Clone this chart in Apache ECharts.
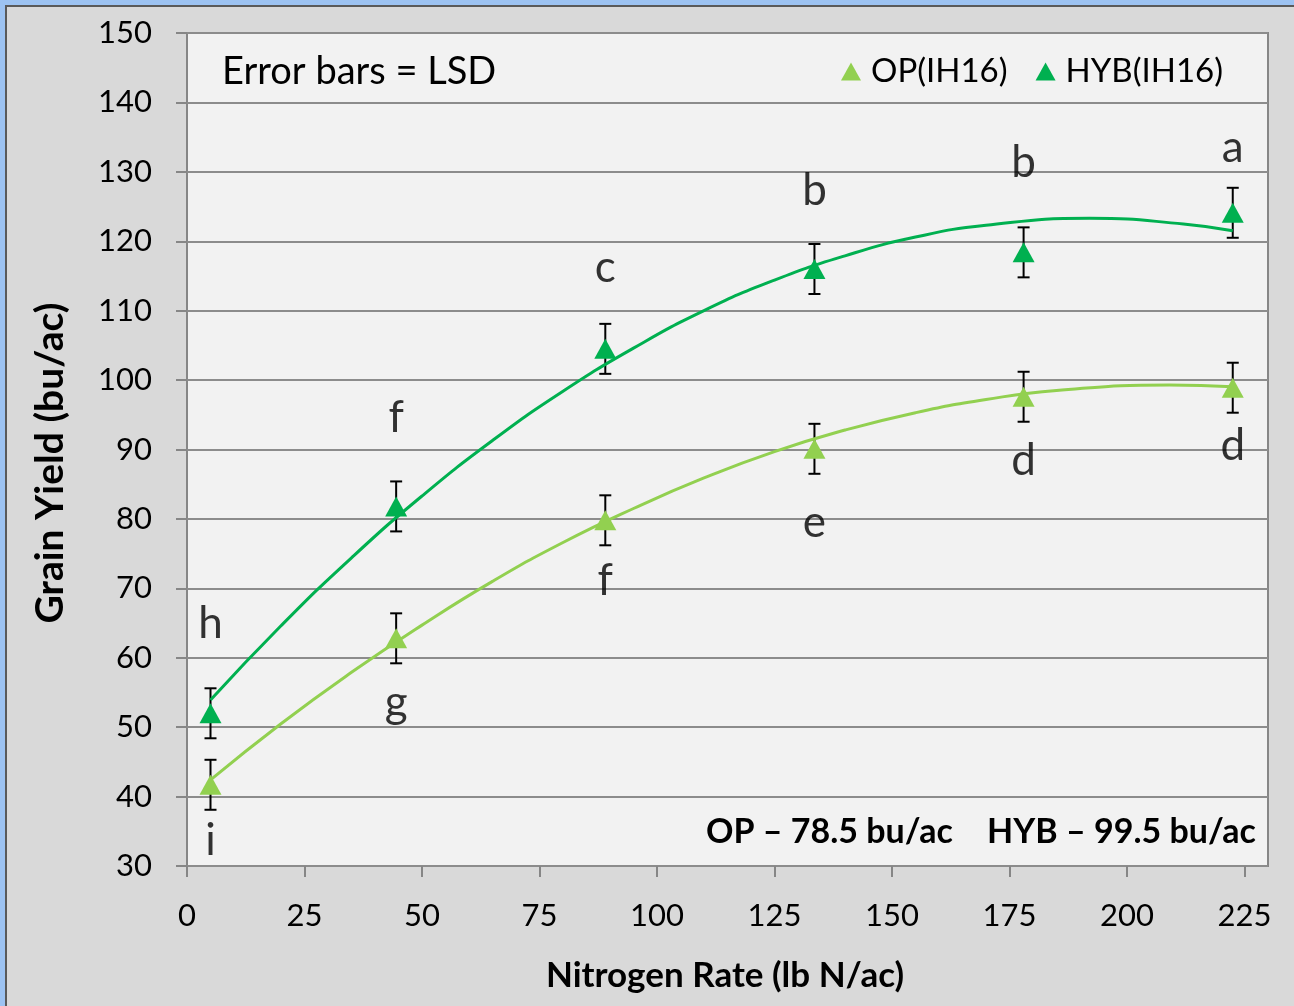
<!DOCTYPE html>
<html>
<head>
<meta charset="utf-8">
<title>Grain Yield vs Nitrogen Rate</title>
<script src="https://cdn.jsdelivr.net/npm/echarts@6/dist/echarts.min.js"></script>
<style>
html,body{margin:0;padding:0;background:#d9d9d9;}
#main{width:1294px;height:1006px;}
</style>
</head>
<body>
<div id="main"></div>
<script>
// nitrogen rates (lb N/ac)
var nRate = [5, 44.5, 89, 133.5, 178, 222.5];
// mean yields (bu/ac)
var opYield = [41.7, 62.8, 79.8, 90.1, 97.6, 98.9];
var hybYield = [52.0, 81.8, 104.5, 116.0, 118.4, 124.1];
// LSD error bars (+/-)
var opLsd = [3.6, 3.6, 3.6, 3.6, 3.6, 3.6];
var hybLsd = [3.6, 3.6, 3.6, 3.6, 3.6, 3.6];
// trend lines
var opTrendX = [5, 20, 35, 50, 65, 80, 95, 110, 125, 140, 155, 170, 185, 209, 222.5];
var opTrend = [42.4, 50.5, 57.9, 64.7, 71.0, 76.6, 81.5, 85.9, 89.7, 92.8, 95.3, 97.2, 98.5, 99.3, 99.05];
var hybTrendX = [5, 20, 35, 50, 65, 80, 95, 110, 125, 140, 155, 170, 192, 212, 222.5];
var hybTrend = [53.9, 64.6, 74.4, 83.3, 91.3, 98.4, 104.6, 110.0, 114.4, 117.9, 120.6, 122.3, 123.3, 122.5, 121.5];
// significance letters and their heights
var hybLetters = ['h', 'f', 'c', 'b', 'b', 'a'];
var hybLetterY = [64.9, 94.6, 116.2, 127.2, 131.3, 133.4];
var opLetters = ['i', 'g', 'f', 'e', 'd', 'd'];
var opLetterY = [33.6, 53.5, 71.1, 79.4, 88.3, 90.5];
var xTicks = [0, 25, 50, 75, 100, 125, 150, 175, 200, 225];

var FONT = 'Lato, "Open Sans", sans-serif';
var opColor = '#92d050', hybColor = '#00b050';

function pairs(xs, ys) {
	var out = [];
	for (var i = 0; i < xs.length; i++) out.push([xs[i], ys[i]]);
	return out;
}
function bars(ys, lsd) {
	var out = [];
	for (var i = 0; i < nRate.length; i++) out.push([nRate[i], ys[i] - lsd[i], ys[i] + lsd[i]]);
	return out;
}
function letters(ys, txt) {
	var out = [];
	for (var i = 0; i < nRate.length; i++) out.push([nRate[i], ys[i], txt[i]]);
	return out;
}
// error bar with caps
function renderBar(params, api) {
	var lo = api.coord([api.value(0), api.value(1)]);
	var hi = api.coord([api.value(0), api.value(2)]);
	var w = 6;
	var st = {stroke: '#000', lineWidth: 2};
	return {
		type: 'group',
		children: [
			{type: 'line', shape: {x1: lo[0], y1: lo[1], x2: hi[0], y2: hi[1]}, style: st},
			{type: 'line', shape: {x1: lo[0] - w, y1: lo[1], x2: lo[0] + w, y2: lo[1]}, style: st},
			{type: 'line', shape: {x1: hi[0] - w, y1: hi[1], x2: hi[0] + w, y2: hi[1]}, style: st}
		]
	};
}
var letterLabel = {
	show: true,
	position: 'inside',
	fontSize: 44,
	fontFamily: FONT,
	color: '#000',
	formatter: function (p) { return p.value[2]; }
};

var option = {
	backgroundColor: '#d9d9d9',
	animation: false,
	textStyle: {fontFamily: FONT},
	grid: {
		left: 187, right: 26, top: 33, bottom: 140,
		show: true, backgroundColor: '#f2f2f2', borderColor: '#868686', borderWidth: 2,
		outerBoundsMode: 'none'
	},
	legend: {
		left: 836, top: 50,
		itemWidth: 20, itemHeight: 18, itemGap: 28,
		icon: 'triangle',
		data: ['OP(IH16)', 'HYB(IH16)'],
		textStyle: {fontSize: 33, fontFamily: FONT, color: '#000', padding: [0, 0, 0, 5]}
	},
	xAxis: {
		type: 'value', min: 0, max: 230, interval: 25,
		axisLine: {show: false},
		axisTick: {show: true, length: 11, lineStyle: {color: '#868686', width: 2}, customValues: xTicks},
		axisLabel: {fontSize: 31, color: '#000', margin: 34, fontFamily: FONT, customValues: xTicks},
		splitLine: {show: false}
	},
	yAxis: {
		type: 'value', min: 30, max: 150, interval: 10,
		axisLine: {show: false},
		axisTick: {show: true, length: 11, lineStyle: {color: '#868686', width: 2}},
		axisLabel: {fontSize: 31, color: '#000', margin: 35, fontFamily: FONT},
		splitLine: {show: true, lineStyle: {color: '#8c8c8c', width: 2}}
	},
	graphic: [
		{type: 'rect', left: 0, top: 0, shape: {width: 1294, height: 5}, style: {fill: '#9dc3f2'}},
		{type: 'rect', left: 0, top: 0, shape: {width: 5, height: 1006}, style: {fill: '#9dc3f2'}},
		{type: 'rect', left: 5, top: 5, shape: {width: 1289, height: 2}, style: {fill: '#5a5a5a'}},
		{type: 'rect', left: 5, top: 5, shape: {width: 2, height: 1001}, style: {fill: '#5a5a5a'}},
		{type: 'text', x: 222, y: 72, style: {text: 'Error bars = LSD', font: '38px ' + FONT, fill: '#000', verticalAlign: 'middle'}},
		{type: 'text', x: 706, y: 832, style: {text: 'OP \u2013 78.5 bu/ac', font: 'bold 34px ' + FONT, fill: '#000', verticalAlign: 'middle'}},
		{type: 'text', x: 1256, y: 832, style: {text: 'HYB \u2013 99.5 bu/ac', font: 'bold 34px ' + FONT, fill: '#000', align: 'right', verticalAlign: 'middle'}},
		{type: 'text', x: 725, y: 976, style: {text: 'Nitrogen Rate (lb N/ac)', font: 'bold 35px ' + FONT, fill: '#000', align: 'center', verticalAlign: 'middle'}},
		{type: 'text', x: 50, y: 463, rotation: Math.PI / 2, style: {text: 'Grain Yield (bu/ac)', font: 'bold 39px ' + FONT, fill: '#000', align: 'center', verticalAlign: 'middle'}}
	],
	series: [
		{name: 'opTrend', type: 'line', data: pairs(opTrendX, opTrend), smooth: true, showSymbol: false,
			lineStyle: {color: opColor, width: 3}, z: 3},
		{name: 'hybTrend', type: 'line', data: pairs(hybTrendX, hybTrend), smooth: true, showSymbol: false,
			lineStyle: {color: hybColor, width: 3}, z: 3},
		{name: 'opBar', type: 'custom', renderItem: renderBar, data: bars(opYield, opLsd), encode: {x: 0, y: [1, 2]}, z: 2},
		{name: 'hybBar', type: 'custom', renderItem: renderBar, data: bars(hybYield, hybLsd), encode: {x: 0, y: [1, 2]}, z: 2},
		{name: 'OP(IH16)', type: 'scatter', symbol: 'triangle', symbolSize: [22, 20],
			itemStyle: {color: opColor, opacity: 1}, data: pairs(nRate, opYield), z: 4},
		{name: 'HYB(IH16)', type: 'scatter', symbol: 'triangle', symbolSize: [22, 20],
			itemStyle: {color: hybColor, opacity: 1}, data: pairs(nRate, hybYield), z: 4},
		{name: 'hybLetters', type: 'scatter', symbolSize: 0, silent: true, label: letterLabel,
			data: letters(hybLetterY, hybLetters), z: 5},
		{name: 'opLetters', type: 'scatter', symbolSize: 0, silent: true, label: letterLabel,
			data: letters(opLetterY, opLetters), z: 5}
	]
};

var myChart = echarts.init(document.getElementById('main'));
myChart.setOption(option);
</script>
</body>
</html>
